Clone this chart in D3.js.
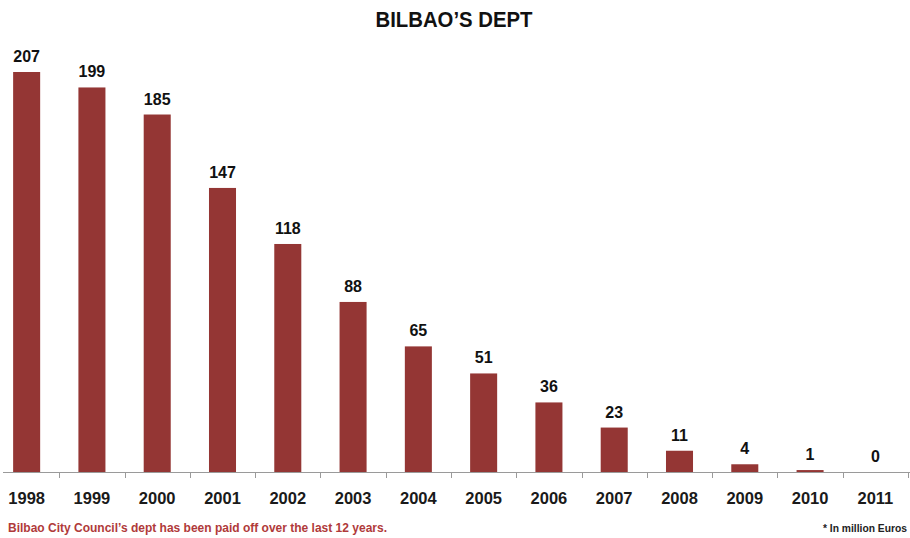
<!DOCTYPE html>
<html><head><meta charset="utf-8">
<script src="https://cdn.jsdelivr.net/npm/d3@7"></script>
<style>body{margin:0;background:#fff}svg{display:block}</style>
</head><body>
<svg id="c" width="910" height="538"></svg>
<script>
const years = ["1998","1999","2000","2001","2002","2003","2004","2005","2006","2007","2008","2009","2010","2011"];
const debt = [207,199,185,147,118,88,65,51,36,23,11,4,1,0];
const title = "BILBAO’S DEPT";
const note = "Bilbao City Council’s dept has been paid off over the last 12 years.";
const unit = "* In million Euros";

const svg = d3.select("#c");
const base = 472;
const x = d3.scaleBand().domain(years).range([-6, 908]).paddingInner(0.586).paddingOuter(0.293);
const y = d3.scaleLinear().domain([0, 207]).range([base, 72]);
const barColor = "#943634";

svg.append("text").attr("x", 454).attr("y", 27).attr("text-anchor", "middle")
  .attr("font-family", "'Liberation Sans',sans-serif")
  .attr("font-weight", "bold").attr("font-size", 22).attr("fill", "#111")
  .attr("textLength", 157).attr("lengthAdjust", "spacingAndGlyphs").text(title);

svg.selectAll("rect.bar").data(debt).enter().append("rect").attr("class","bar")
  .attr("x", (d,i) => x(years[i])).attr("width", x.bandwidth())
  .attr("y", d => y(d)).attr("height", d => base - y(d)).attr("fill", barColor);

svg.selectAll("text.val").data(debt).enter().append("text").attr("class","val")
  .attr("x", (d,i) => x(years[i]) + x.bandwidth()/2).attr("y", d => y(d) - 10)
  .attr("text-anchor","middle").attr("font-family","'Liberation Sans',Arial,sans-serif")
  .attr("font-weight","bold").attr("font-size",16).attr("fill","#111").text(d => d);

svg.append("line").attr("x1",3).attr("x2",910).attr("y1",base+0.5).attr("y2",base+0.5)
  .attr("stroke","#9a9a9a").attr("stroke-width",1.2);
const step = x.step();
svg.selectAll("line.tk").data(years.slice(1).concat(["end"])).enter().append("line").attr("class","tk")
  .attr("x1",(d,i) => Math.round(x(years[0]) - x.paddingOuter()*step + (i+1)*step) + 0.5)
  .attr("x2",(d,i) => Math.round(x(years[0]) - x.paddingOuter()*step + (i+1)*step) + 0.5)
  .attr("y1",base).attr("y2",base+6).attr("stroke","#9a9a9a").attr("stroke-width",1);

svg.selectAll("text.yr").data(years).enter().append("text").attr("class","yr")
  .attr("x", d => x(d) + x.bandwidth()/2).attr("y", 504)
  .attr("text-anchor","middle").attr("font-family","'Liberation Sans',Arial,sans-serif")
  .attr("font-weight","bold").attr("font-size",16.5).attr("fill","#1a1a1a").text(d => d);

svg.append("text").attr("x",8).attr("y",532)
  .attr("font-family","'Liberation Sans',sans-serif")
  .attr("font-weight","bold").attr("font-size",12).attr("fill","#b03a3a")
  .attr("textLength", 379).attr("lengthAdjust", "spacingAndGlyphs").text(note);

svg.append("text").attr("x",823).attr("y",532)
  .attr("font-family","'Liberation Sans',sans-serif")
  .attr("font-weight","bold").attr("font-size",10).attr("fill","#222")
  .attr("textLength", 84).attr("lengthAdjust", "spacingAndGlyphs").text(unit);
</script>
</body></html>
